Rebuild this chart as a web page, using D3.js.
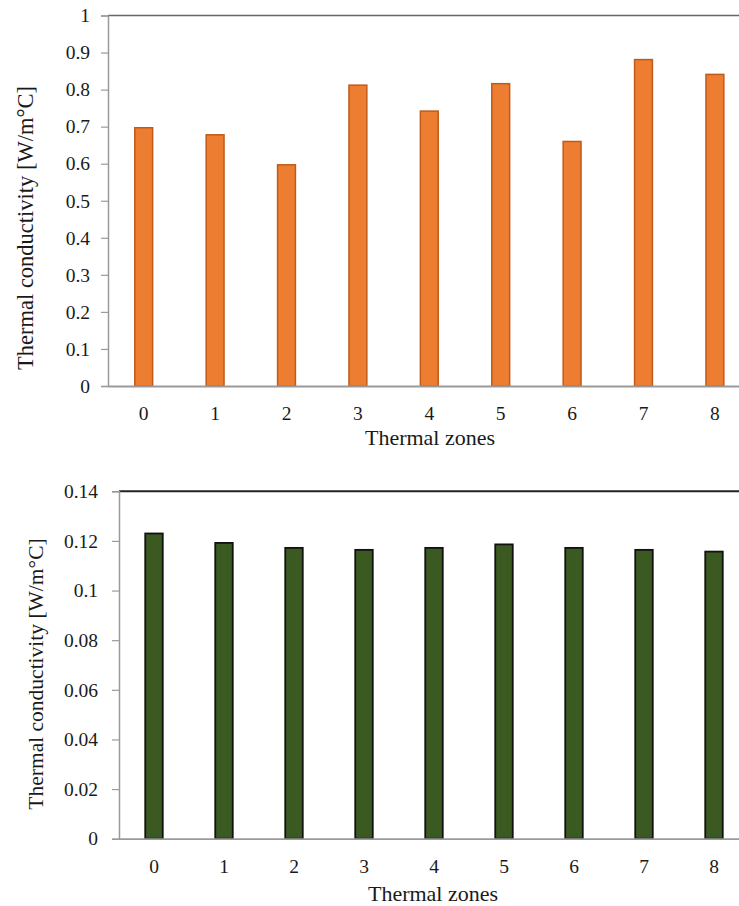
<!DOCTYPE html>
<html>
<head>
<meta charset="utf-8">
<script src="https://cdn.jsdelivr.net/npm/d3@7"></script>
<style>
  html, body { margin: 0; padding: 0; background: #fff; overflow: hidden; }
  svg { display: block; }
  svg text { font-family: "Times New Roman", Tinos, "Liberation Serif", "DejaVu Serif", serif !important; fill: #1a1a1a; }
</style>
</head>
<body>
<svg id="chart" width="739" height="906"></svg>
<script>
const zones = ["0", "1", "2", "3", "4", "5", "6", "7", "8"];
const topValues = [0.697, 0.678, 0.597, 0.812, 0.742, 0.816, 0.660, 0.881, 0.841];
const bottomValues = [0.1230, 0.1192, 0.1172, 0.1164, 0.1172, 0.1186, 0.1172, 0.1164, 0.1157];
const topYTicks = [0, 0.1, 0.2, 0.3, 0.4, 0.5, 0.6, 0.7, 0.8, 0.9, 1];
const topYLabels = ["0", "0.1", "0.2", "0.3", "0.4", "0.5", "0.6", "0.7", "0.8", "0.9", "1"];
const bottomYTicks = [0, 0.02, 0.04, 0.06, 0.08, 0.1, 0.12, 0.14];
const bottomYLabels = ["0", "0.02", "0.04", "0.06", "0.08", "0.1", "0.12", "0.14"];
const yTitle = "Thermal conductivity [W/m°C]";
const xTitle = "Thermal zones";

const svg = d3.select("#chart");

function drawPanel(cfg) {
  const g = svg.append("g");
  const x = d3.scaleBand().domain(zones)
    .range([cfg.left, cfg.left + cfg.step * zones.length])
    .paddingInner(0.75).paddingOuter(0.375);
  const y = d3.scaleLinear().domain([0, cfg.max]).range([cfg.bottom, cfg.top]);
  const right = cfg.left + cfg.step * zones.length;

  g.append("line")
    .attr("x1", cfg.left).attr("x2", right)
    .attr("y1", y(cfg.max)).attr("y2", y(cfg.max))
    .attr("stroke", cfg.topBorder).attr("stroke-width", cfg.topBorderW);

  const yAxis = d3.axisLeft(y).tickValues(cfg.yTicks)
    .tickFormat((d, i) => cfg.yLabels[i]).tickSize(7).tickPadding(cfg.yPad);
  const ya = g.append("g").attr("transform", `translate(${cfg.left},0)`).call(yAxis);
  ya.attr("font-family", null);
  ya.select(".domain").attr("stroke", "#9a9a9a").attr("stroke-width", 1.5);
  ya.selectAll(".tick line").attr("stroke", "#9a9a9a").attr("stroke-width", 1.2);
  ya.selectAll(".tick text").attr("font-size", 19.5).attr("fill", "#1a1a1a");

  g.selectAll("rect.bar").data(cfg.values).enter().append("rect")
    .attr("class", "bar")
    .attr("x", (d, i) => x(zones[i]))
    .attr("width", x.bandwidth())
    .attr("y", d => y(d))
    .attr("height", d => y(0) - y(d))
    .attr("fill", cfg.fill)
    .attr("stroke", cfg.stroke)
    .attr("stroke-width", cfg.strokeW);

  const xAxis = d3.axisBottom(x).tickSize(0).tickPadding(cfg.xPad);
  const xa = g.append("g").attr("transform", `translate(0,${y(0)})`).call(xAxis);
  xa.attr("font-family", null);
  xa.select(".domain").attr("stroke", "#9a9a9a").attr("stroke-width", 1.8);
  xa.selectAll(".tick text").attr("font-size", 19.5).attr("fill", "#1a1a1a");

  g.append("text")
    .attr("x", cfg.xTitleX).attr("y", cfg.xTitleY)
    .attr("text-anchor", "middle").attr("font-size", 22)
    .text(xTitle);
  g.append("text")
    .attr("transform", `translate(${cfg.yTitleX},${cfg.yTitleY}) rotate(-90)`)
    .attr("text-anchor", "middle").attr("font-size", cfg.yTitleSize)
    .attr("dy", "0.35em")
    .text(yTitle);
}

drawPanel({
  values: topValues, max: 1, yTicks: topYTicks, yLabels: topYLabels,
  left: 108, step: 71.4, top: 15.5, bottom: 386,
  fill: "#ED7D31", stroke: "#C05A1A", strokeW: 1.5,
  topBorder: "#666", topBorderW: 1.5,
  yPad: 11, xPad: 20,
  xTitleX: 430, xTitleY: 445,
  yTitleX: 25, yTitleY: 228, yTitleSize: 22.5
});

drawPanel({
  values: bottomValues, max: 0.14, yTicks: bottomYTicks, yLabels: bottomYLabels,
  left: 119, step: 70, top: 491.3, bottom: 838.7,
  fill: "#3B5A22", stroke: "#111", strokeW: 1.8,
  topBorder: "#222", topBorderW: 2,
  yPad: 14, xPad: 20,
  xTitleX: 433, xTitleY: 901,
  yTitleX: 35, yTitleY: 674, yTitleSize: 21.5
});
</script>
</body>
</html>
